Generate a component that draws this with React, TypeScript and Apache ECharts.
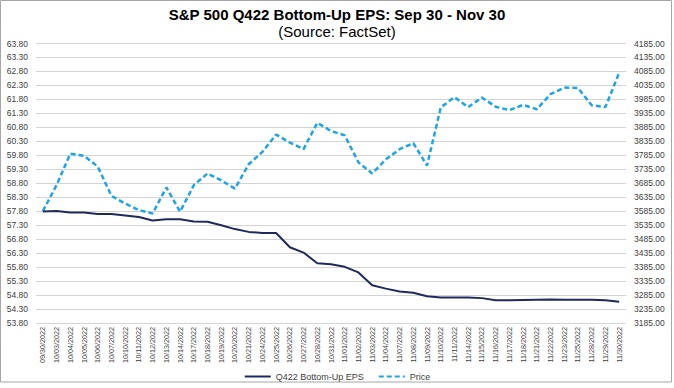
import React, { useEffect, useRef } from "react";
import * as echarts from "echarts";

const dates = [
  "09/30/2022", "10/03/2022", "10/04/2022", "10/05/2022", "10/06/2022", "10/07/2022",
  "10/10/2022", "10/11/2022", "10/12/2022", "10/13/2022", "10/14/2022", "10/17/2022",
  "10/18/2022", "10/19/2022", "10/20/2022", "10/21/2022", "10/24/2022", "10/25/2022",
  "10/26/2022", "10/27/2022", "10/28/2022", "10/31/2022", "11/01/2022", "11/02/2022",
  "11/03/2022", "11/04/2022", "11/07/2022", "11/08/2022", "11/09/2022", "11/10/2022",
  "11/11/2022", "11/14/2022", "11/15/2022", "11/16/2022", "11/17/2022", "11/18/2022",
  "11/21/2022", "11/22/2022", "11/23/2022", "11/25/2022", "11/28/2022", "11/29/2022",
  "11/30/2022",
];

const epsValues = [
  57.79, 57.81, 57.75, 57.75, 57.7, 57.7, 57.65, 57.59, 57.47, 57.51, 57.51, 57.43,
  57.42, 57.3, 57.16, 57.06, 57.02, 57.02, 56.51, 56.32, 55.94, 55.9, 55.81, 55.61,
  55.15, 55.03, 54.93, 54.88, 54.76, 54.71, 54.71, 54.71, 54.69, 54.61, 54.61, 54.62,
  54.63, 54.64, 54.63, 54.63, 54.63, 54.61, 54.56,
];

const priceValues = [
  3585.6, 3678.4, 3790.9, 3783.3, 3744.5, 3639.7, 3612.4, 3588.8, 3577.0, 3669.9, 3583.1,
  3678.0, 3720.0, 3695.2, 3665.8, 3752.8, 3797.3, 3859.1, 3830.6, 3807.3, 3901.1, 3872.0,
  3856.1, 3759.7, 3719.9, 3770.6, 3806.8, 3828.1, 3748.6, 3956.4, 3992.9, 3957.3, 3991.7,
  3958.8, 3946.6, 3965.3, 3949.9, 4003.6, 4027.3, 4026.1, 3963.9, 3957.6, 4080.1,
];

const titleText = "S&P 500 Q422 Bottom-Up EPS: Sep 30 - Nov 30";
const subtitleText = "(Source: FactSet)";
const seriesNames = ["Q422 Bottom-Up EPS", "Price"];

const FONT = "'Liberation Sans', Arial, sans-serif";

export default function App() {
  const ref = useRef<HTMLDivElement>(null);
  useEffect(() => {
    const chart = echarts.init(ref.current!, null, { renderer: "svg" });
    chart.setOption({
      animation: false,
      textStyle: { fontFamily: FONT },
      graphic: [
        {
          type: "rect",
          shape: { x: 0.5, y: 0.5, width: 671, height: 381.5 },
          style: { fill: "none", stroke: "#a6a6a6", lineWidth: 1 },
          silent: true,
        },
      ],
      title: [
        {
          text: titleText,
          left: "center",
          top: 7,
          padding: 0,
          textStyle: { fontSize: 15, fontWeight: "bold", color: "#000", fontFamily: FONT },
        },
        {
          text: subtitleText,
          left: "center",
          top: 24,
          padding: 0,
          textStyle: { fontSize: 15, fontWeight: "normal", color: "#000", fontFamily: FONT },
        },
      ],
      legend: {
        top: 367,
        left: "center",
        itemWidth: 26,
        itemHeight: 10,
        itemGap: 14,
        data: seriesNames,
        itemStyle: { opacity: 0 },
        textStyle: { fontSize: 9, color: "#404040", fontFamily: FONT },
      },
      grid: { left: 36, right: 48, top: 43.5, bottom: 65, containLabel: false },
      xAxis: {
        type: "category",
        data: dates,
        boundaryGap: true,
        axisLine: { show: false },
        axisTick: { show: false },
        axisLabel: {
          rotate: 90,
          interval: 0,
          fontSize: 7.2,
          color: "#404040",
          margin: 4,
          fontFamily: FONT,
        },
      },
      yAxis: [
        {
          type: "value",
          min: 53.8,
          max: 63.8,
          interval: 0.5,
          axisLine: { show: false },
          axisTick: { show: false },
          axisLabel: {
            fontSize: 8.5,
            color: "#404040",
            fontFamily: FONT,
            formatter: (v: number) => v.toFixed(2),
          },
          splitLine: { lineStyle: { color: "#d4d4d4", width: 1 } },
        },
        {
          type: "value",
          min: 3185,
          max: 4185,
          interval: 50,
          position: "right",
          axisLine: { show: false },
          axisTick: { show: false },
          axisLabel: {
            fontSize: 8.5,
            color: "#404040",
            fontFamily: FONT,
            formatter: (v: number) => v.toFixed(2),
          },
          splitLine: { show: false },
        },
      ],
      series: [
        {
          name: seriesNames[0],
          type: "line",
          yAxisIndex: 0,
          data: epsValues,
          symbol: "none",
          lineStyle: { color: "#1f2a5c", width: 2 },
          itemStyle: { color: "#1f2a5c" },
          z: 3,
        },
        {
          name: seriesNames[1],
          type: "line",
          yAxisIndex: 1,
          data: priceValues,
          symbol: "none",
          lineStyle: { color: "#1aa5e6", width: 2.5, type: [5, 3] },
          itemStyle: { color: "#1aa5e6" },
          z: 2,
        },
      ],
    });
    return () => chart.dispose();
  }, []);
  return (
    <div
      ref={ref}
      style={{ position: "absolute", left: 0, top: 0, width: 674, height: 388 }}
    />
  );
}
